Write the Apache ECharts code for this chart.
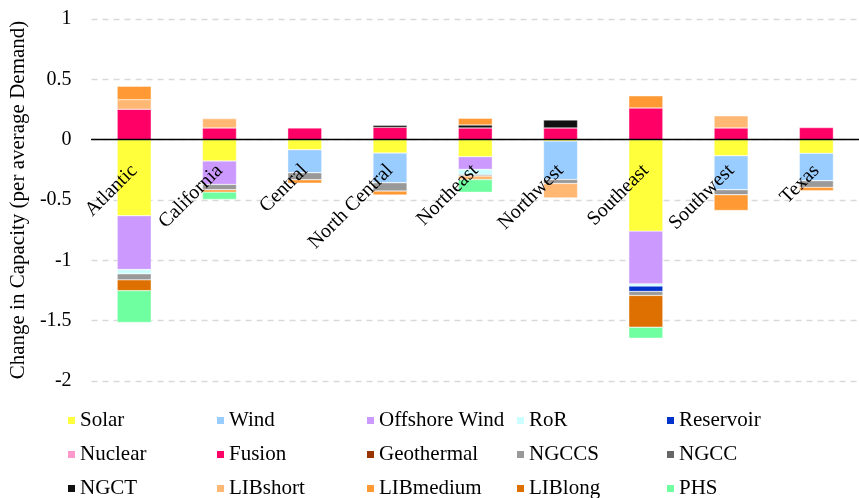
<!DOCTYPE html>
<html>
<head>
<meta charset="utf-8">
<script src="https://cdn.jsdelivr.net/npm/echarts@6/dist/echarts.min.js"></script>
<style>
  html, body { margin: 0; padding: 0; background: #fff; }
  #chart { width: 859px; height: 498px; }
</style>
</head>
<body>
<div id="chart"></div>
<script>
// Regions on the category axis
const regions = ['Atlantic', 'California', 'Central', 'North Central', 'Northeast',
                 'Northwest', 'Southeast', 'Southwest', 'Texas'];

// Change in capacity per technology, per average demand (one value per region)
const solar      = [-0.630, -0.177, -0.083, -0.111, -0.141, -0.012, -0.758, -0.133, -0.113];
const wind       = [0, 0, -0.191, -0.246, 0, -0.318, 0, -0.282, -0.227];
const offshore   = [-0.446, -0.194, 0, 0, -0.105, 0, -0.437, 0, 0];
const ror        = [-0.036, 0, 0, 0, -0.044, 0, -0.019, 0, 0];
const reservoir  = [0, 0, 0, 0, 0, 0, -0.044, 0, 0];
const nuclear    = [0, 0, 0, 0, 0, 0, 0, 0, 0];
const fusion     = [0.252, 0.097, 0.097, 0.102, 0.097, 0.097, 0.263, 0.097, 0.100];
const geothermal = [0, 0, 0, 0, 0, 0, 0, 0, 0];
const ngccs      = [-0.050, -0.044, -0.058, -0.069, -0.011, -0.033, -0.033, -0.041, -0.055];
const ngcc       = [0, 0, 0, 0, 0, 0, 0, 0, 0];
const ngct       = [0, 0, 0, 0.017, 0.025, 0.066, 0, 0, 0];
const libShort   = [0.080, 0.077, 0, 0, -0.030, -0.119, 0, 0.100, 0];
const libMedium  = [0.111, -0.020, -0.028, -0.033, 0.055, 0, 0.100, -0.130, -0.028];
const libLong    = [-0.089, 0, 0, 0, 0, 0, -0.263, 0, 0];
const phs        = [-0.263, -0.060, 0, 0, -0.105, 0, -0.091, 0, 0];

// Y-axis range and step
const yMin = -2, yMax = 1, yStep = 0.5;

const techs = [
  ['Solar', solar, '#FFFF3C'],
  ['Wind', wind, '#99CCFF'],
  ['Offshore Wind', offshore, '#CC99FF'],
  ['RoR', ror, '#CCFFFF'],
  ['Reservoir', reservoir, '#0033CC'],
  ['Nuclear', nuclear, '#FF99CC'],
  ['Fusion', fusion, '#FF0066'],
  ['Geothermal', geothermal, '#993300'],
  ['NGCCS', ngccs, '#999999'],
  ['NGCC', ngcc, '#666666'],
  ['NGCT', ngct, '#111111'],
  ['LIBshort', libShort, '#FFB874'],
  ['LIBmedium', libMedium, '#FF9933'],
  ['LIBlong', libLong, '#DD7000'],
  ['PHS', phs, '#70FFA0']
];

const FONT = "'Liberation Serif', 'Times New Roman', serif";

// Plot area
const gridTop = 19, gridHeight = 362;
// Category axis sits on the zero line: shift it up from the bottom edge of the plot
const zeroShift = gridHeight * (0 - yMin) / (yMax - yMin);

const series = techs.map(([name, values, color]) => ({
  name: name,
  type: 'bar',
  stack: 'capacity',
  barWidth: 34,
  itemStyle: { color: color, borderColor: '#ffffff', borderWidth: 0.4 },
  emphasis: { disabled: true },
  data: values.map(v => (v === 0 ? '-' : v))
}));

// Legend: a grid of five columns by three rows, one entry per cell
const legendLeft = [66, 215, 365, 515, 665];
const legendTop = [410, 444, 478];
const legends = techs.map(([name], i) => ({
  data: [name],
  left: legendLeft[i % 5],
  top: legendTop[Math.floor(i / 5)],
  padding: 0,
  itemWidth: 9,
  itemHeight: 9,
  icon: 'rect',
  selectedMode: false,
  textStyle: { fontFamily: FONT, fontSize: 21, lineHeight: 20, color: '#000', padding: [0, 0, 0, -1] }
}));

const chart = echarts.init(document.getElementById('chart'), null, { renderer: 'canvas' });
chart.setOption({
  animation: false,
  backgroundColor: '#ffffff',
  textStyle: { fontFamily: FONT },
  grid: { left: 88, top: gridTop, width: 776, height: gridHeight, containLabel: false },
  legend: legends,
  xAxis: {
    type: 'category',
    data: regions,
    z: 10,
    offset: -zeroShift,
    axisLine: { onZero: false, lineStyle: { color: '#000', width: 1.3 } },
    axisTick: { show: false },
    axisLabel: {
      interval: 0,
      rotate: 45,
      margin: 28,
      fontFamily: FONT,
      fontSize: 20,
      color: '#000'
    },
    splitLine: { show: false }
  },
  yAxis: {
    type: 'value',
    min: yMin,
    max: yMax,
    interval: yStep,
    name: 'Change in Capacity (per average Demand)',
    nameLocation: 'middle',
    nameGap: 57,
    nameTextStyle: { fontFamily: FONT, fontSize: 21, color: '#000' },
    axisLine: { show: false },
    axisTick: { show: false },
    axisLabel: { fontFamily: FONT, fontSize: 20, color: '#000', margin: 20 },
    splitLine: { lineStyle: { color: '#D9D9D9', type: [6, 5], width: 1.3 } }
  },
  series: series
});
</script>
</body>
</html>
